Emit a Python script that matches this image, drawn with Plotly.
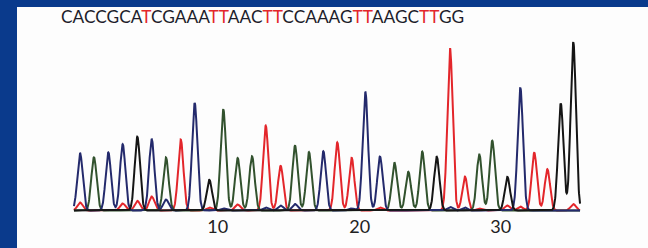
import numpy as np
import plotly.graph_objects as go

# ---- data ----
sequence = "CACCGCATCGAAATTAACTTCCAAAGTTAAGCTTGG"
bases = list(sequence)

# peak centres (base units) and peak heights (signal units)
peak_pos = [1.00, 1.99, 3.01, 4.03, 5.07, 6.09, 7.10, 8.15, 9.14, 10.18,
            11.17, 12.19, 13.21, 14.18, 15.24, 16.26, 17.25, 18.27, 19.26, 20.28,
            21.25, 22.29, 23.31, 24.30, 25.29, 26.32, 27.26, 28.32, 29.34, 30.26,
            31.33, 32.25, 33.24, 34.17, 35.12, 36.01]
peak_height = [57.6, 53.2, 58.1, 66.2, 73.8, 71.2, 53.1, 70.9, 102.5, 30.7,
               101.2, 52.4, 54.2, 84.8, 44.6, 64.8, 58.4, 59.2, 68.1, 52.6,
               118.8, 54.0, 48.2, 38.7, 58.9, 53.8, 162.5, 33.8, 56.0, 69.8,
               33.7, 122.9, 57.8, 41.3, 107.1, 168.4]

# small secondary signals
minor_base = ["T", "T", "T", "T", "T", "T", "T", "T", "T", "T", "T",
              "C", "C", "C", "C", "C", "C", "C", "C", "C"]
minor_pos = [1.00, 4.03, 5.07, 6.09, 10.18, 12.19, 22.29, 29.34, 31.33, 32.25, 36.01,
             7.10, 9.14, 11.17, 14.18, 15.24, 16.26, 20.28, 27.26, 28.32]
minor_height = [8, 7, 9.7, 14, 3, 6, 3, 2, 5, 4, 6.5,
                11, 5, 2, 3, 5, 6.5, 2, 3.5, 3]

tick_vals = [10.78, 20.85, 30.86]
tick_text = ["10", "20", "30"]

base_colors = {"C": "#242a6c", "A": "#32522e", "G": "#151515", "T": "#e3262b"}
draw_order = ["T", "A", "C", "G"]

# ---- build traces ----
sigma = 0.19
x = np.linspace(0.57, 36.49, 2400)
fig = go.Figure()
for b in draw_order:
    y = np.zeros_like(x)
    for bb, p, h in zip(bases, peak_pos, peak_height):
        if bb == b:
            y += h * np.exp(-0.5 * ((x - p) / sigma) ** 2)
    for bb, p, h in zip(minor_base, minor_pos, minor_height):
        if bb == b:
            y += h * np.exp(-0.5 * ((x - p) / sigma) ** 2)
    fig.add_trace(go.Scatter(x=x, y=y, mode="lines",
                             line=dict(color=base_colors[b], width=2),
                             hoverinfo="skip", showlegend=False))

# coloured sequence text
seq_html = "".join(
    f"<span style='color:{'#e3262b' if c == 'T' else '#1d1d2b'}'>{c}</span>"
    for c in sequence)

W, H = 648, 248
B = 36
plot_h = H - B
fig.add_shape(type="rect", xref="paper", yref="paper",
              x0=17 / W, x1=1.0, y0=(plot_h - H) / plot_h, y1=(plot_h - 7) / plot_h,
              fillcolor="#fdfdfd", line=dict(width=0), layer="below")
fig.add_annotation(text=seq_html, xref="paper", yref="paper",
                   x=262 / W, y=(plot_h - 16.5) / plot_h, xanchor="center", yanchor="middle",
                   showarrow=False, font=dict(family="Lato", size=17.3, color="#1d1d2b"))

x0 = 1 - 80 / 14.09
x1 = x0 + W / 14.09
fig.update_layout(
    width=W, height=H,
    margin=dict(l=0, r=0, t=0, b=B),
    paper_bgcolor="#0a3a8c",
    plot_bgcolor="rgba(0,0,0,0)",
    xaxis=dict(range=[x0, x1], showgrid=False, zeroline=False, showline=False,
               tickvals=tick_vals, ticktext=tick_text, ticks="", ticklen=0,
               ticklabelstandoff=2,
               tickfont=dict(family="Lato", size=18, color="#222222")),
    yaxis=dict(range=[-1.5, plot_h - 1.5], showgrid=False, zeroline=False,
               showline=False, showticklabels=False, fixedrange=True),
)
fig.write_html("out.html",
               config={"displayModeBar": False, "staticPlot": True},
               post_script="document.body.style.margin='0';"
                           "document.body.style.background='#0a3a8c';")
